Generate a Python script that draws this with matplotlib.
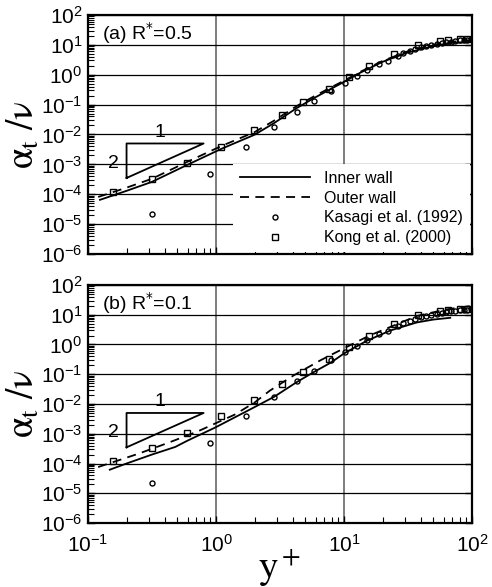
import matplotlib
matplotlib.use("Agg")
import matplotlib.pyplot as plt
from matplotlib.ticker import LogLocator, NullFormatter
from matplotlib.lines import Line2D

plt.rcParams['font.family'] = ['Liberation Sans', 'DejaVu Sans']

# inner / outer wall curves, panel (a) R*=0.5
a_in_y = [0.124, 0.2, 0.316, 0.593, 1.1, 2.0, 2.84, 4.26, 5.84, 7.94, 10.0, 13.3, 20.0, 30.9, 46.8, 67.6, 100]
a_in_v = [6.5e-5, 1.3e-4, 2.6e-4, 9.5e-4, 3.3e-3, 9.8e-3, 0.024, 0.076, 0.166, 0.34, 0.575, 1.15, 2.7, 5.4, 8.5, 11.5, 12.6]
a_out_y = [0.12, 0.2, 0.316, 0.593, 1.1, 2.0, 2.84, 4.26, 5.84, 7.94, 10.0, 13.3, 20.0, 30.9, 46.8, 67.6, 100]
a_out_v = [8.1e-5, 1.66e-4, 3.3e-4, 1.2e-3, 4.1e-3, 0.012, 0.029, 0.089, 0.19, 0.38, 0.63, 1.23, 2.9, 5.9, 9.5, 12.6, 14.1]

# panel (b) R*=0.1
b_in_y = [0.148, 0.2, 0.316, 0.48, 0.6, 0.98, 1.85, 2.84, 4.26, 5.84, 7.94, 10.0, 15.0, 23.0, 37.0, 50.0, 67.6]
b_in_v = [6.2e-5, 1.0e-4, 2.0e-4, 3.6e-4, 5.9e-4, 1.6e-3, 6.6e-3, 0.0174, 0.054, 0.12, 0.25, 0.5, 1.32, 2.95, 5.5, 6.9, 7.9]
b_out_y = [0.12, 0.245, 0.42, 0.72, 1.4, 2.0, 2.63, 4.0, 6.6, 10.5, 15.8, 25.0, 37.0, 63.0, 100]
b_out_v = [7.6e-5, 2.1e-4, 4.9e-4, 1.2e-3, 4.4e-3, 0.0112, 0.028, 0.089, 0.30, 0.83, 2.0, 4.5, 9.1, 15.1, 20.0]

# reference DNS data (same in both panels)
kasagi_y = [0.316, 0.9, 1.71, 2.84, 4.26, 5.8, 7.9, 10.2, 12.6, 15.1, 18.6, 21.9, 26.3, 28.8,
            33, 36, 40, 44, 48, 53, 58, 63, 68, 74, 80, 86, 92, 98]
kasagi_v = [2.2e-5, 4.8e-4, 3.9e-3, 0.0178, 0.0575, 0.132, 0.29, 0.54, 0.91, 1.45, 2.3, 2.9, 4.3, 5.4,
            6.3, 7.2, 8.3, 9.3, 10.0, 11.0, 11.7, 12.3, 12.9, 13.5, 14.1, 14.5, 14.8, 15.1]
kong_y = [0.157, 0.316, 0.593, 1.1, 1.98, 3.28, 4.8, 7.6, 11, 15.7, 24.6, 38, 56, 65, 80, 92]
kong_v = [1.2e-4, 3.3e-4, 1.1e-3, 3.9e-3, 1.4e-2, 0.046, 0.123, 0.335, 0.85, 1.95, 5.0, 10.0, 13.5, 14.5, 15.8, 15.8]

# slope triangle
tri_x = [0.2, 0.8, 0.2, 0.2]
tri_y = [3.5e-4, 5e-3, 5e-3, 3.5e-4]

labels = ['(a) R$^{*}$=0.5', '(b) R$^{*}$=0.1']
curves = [(a_in_y, a_in_v, a_out_y, a_out_v), (b_in_y, b_in_v, b_out_y, b_out_v)]

fig = plt.figure(figsize=(4.92, 5.87), dpi=100)
ax1 = fig.add_axes([0.1789, 0.5673, 0.7805, 0.4072])
ax2 = fig.add_axes([0.1789, 0.1090, 0.7805, 0.4055])

for i, ax in enumerate([ax1, ax2]):
    iy, iv, oy, ov = curves[i]
    ax.set_xscale('log')
    ax.set_yscale('log')
    ax.set_xlim(0.1, 100)
    ax.set_ylim(1e-6, 100)
    ax.plot(iy, iv, 'k-', lw=1.3)
    ax.plot(oy, ov, 'k--', lw=1.3, dashes=(5, 3.5))
    ax.plot(kasagi_y, kasagi_v, 'o', ms=3.6, mfc='none', mec='k', mew=1.0)
    ax.plot(kong_y, kong_v, 's', ms=4.3, mfc='none', mec='k', mew=1.0)
    ax.plot(tri_x, tri_y, 'k-', lw=1.3)
    ax.text(0.365, 1.2e-2, '1', fontsize=14, ha='center', va='center')
    ax.text(0.157, 1.1e-3, '2', fontsize=14, ha='center', va='center')
    ax.text(0.036, 0.925, labels[i], transform=ax.transAxes, fontsize=14, ha='left', va='center')

    ax.yaxis.set_major_locator(LogLocator(base=10, numticks=20))
    ax.yaxis.set_minor_locator(LogLocator(base=10, subs=range(2, 10), numticks=20))
    ax.yaxis.set_minor_formatter(NullFormatter())
    ax.xaxis.set_minor_locator(LogLocator(base=10, subs=range(2, 10), numticks=20))
    ax.xaxis.set_minor_formatter(NullFormatter())
    ax.grid(True, which='major', axis='y', color='k', lw=0.9)
    ax.grid(True, which='major', axis='x', color='0.4', lw=1.2)
    ax.set_axisbelow(True)
    ax.tick_params(which='both', direction='in', labelsize=15, right=True, top=False)
    ax.tick_params(which='major', length=5, width=1.0, pad=4)
    ax.tick_params(which='minor', length=4, width=0.8, right=False)
    for s in ax.spines.values():
        s.set_linewidth(1.6)

    ax.set_ylabel(r'$\mathrm{\alpha_t\ /\nu}$', fontsize=27, math_fontfamily='stix')
    ax.yaxis.set_label_coords(-0.12, 0.5)

ax1.tick_params(labelbottom=False)
ax2.tick_params(axis='x', pad=8)
ax2.set_xlabel(r'$\mathrm{y^+}$', fontsize=28, math_fontfamily='stix')
ax2.xaxis.set_label_coords(0.5, -0.1)

handles = [Line2D([], [], color='k', lw=1.3),
           Line2D([], [], color='k', lw=1.3, ls='--', dashes=(5, 3.5)),
           Line2D([], [], ls='none', marker='o', ms=3.6, mfc='none', mec='k', mew=1.0),
           Line2D([], [], ls='none', marker='s', ms=4.3, mfc='none', mec='k', mew=1.0)]
leg = ax1.legend(handles, ['Inner wall', 'Outer wall', 'Kasagi et al. (1992)', 'Kong et al. (2000)'],
                 loc='lower right', bbox_to_anchor=(1.0, 0.0), borderaxespad=0.15, fontsize=11.5,
                 handlelength=4.4, handletextpad=0.9, labelspacing=0.3,
                 frameon=True, fancybox=False, framealpha=1.0, edgecolor='none', facecolor='white')

fig.savefig('out.png', dpi=100)
